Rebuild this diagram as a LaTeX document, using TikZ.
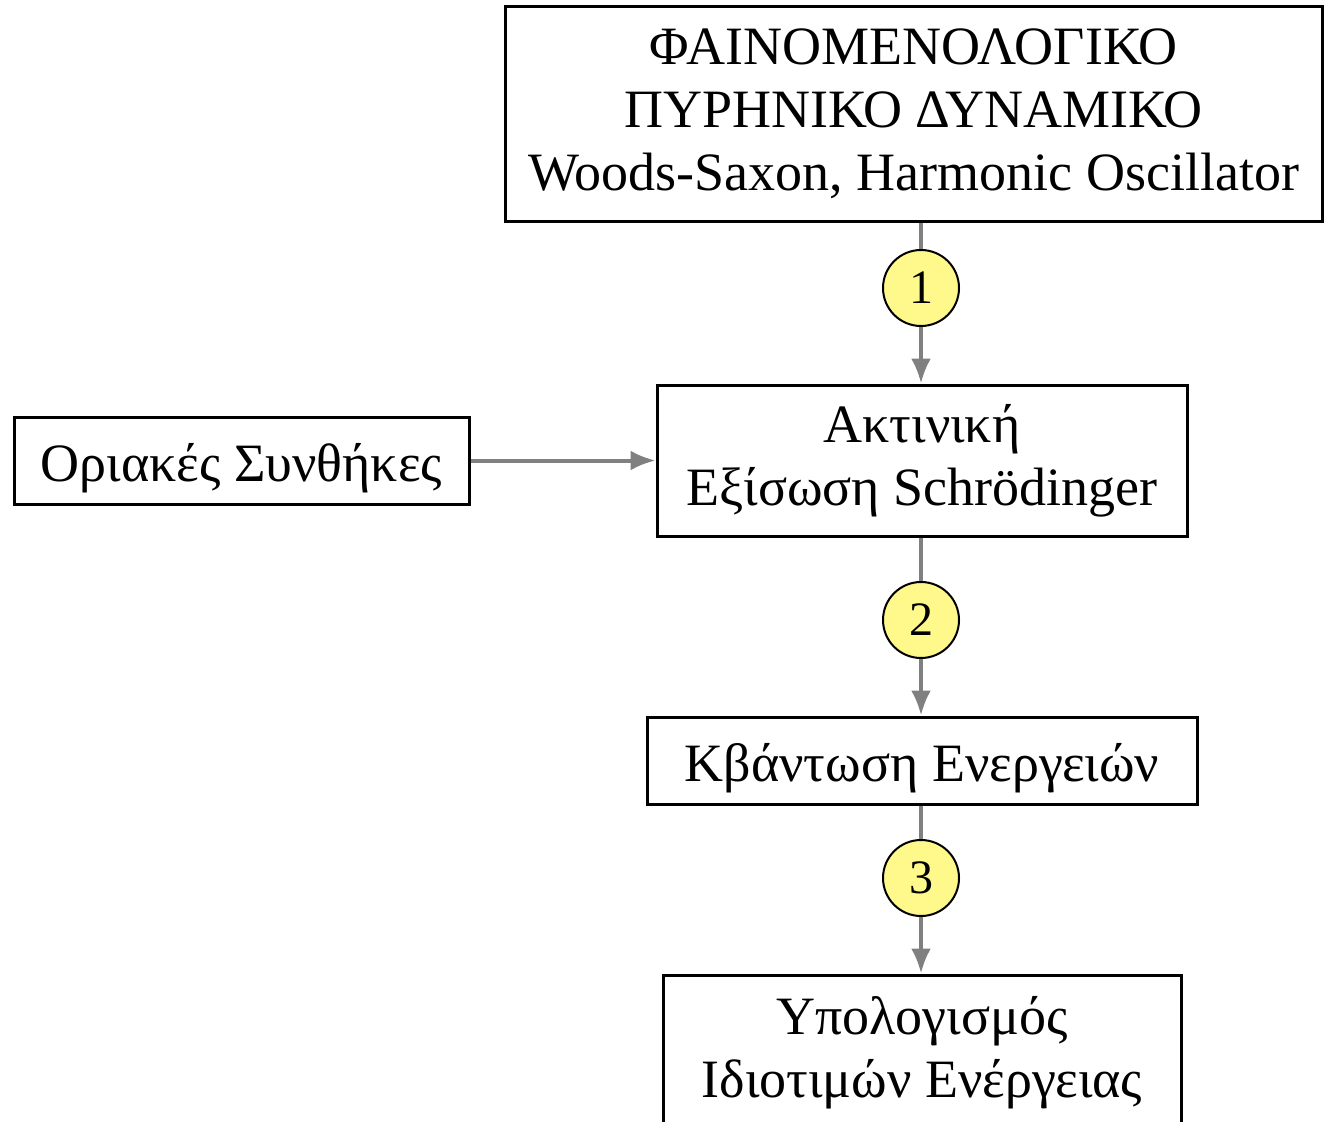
\documentclass[tikz,border=0pt]{standalone}
\usepackage{fontspec}
\setmainfont{Liberation Serif}
\usetikzlibrary{arrows.meta}
\tikzset{
  box/.style={draw,line width=3pt,align=center,inner sep=0pt,font=\fontsize{54}{63}\selectfont,
    execute at begin node={\rule{0pt}{54pt}}},
  num/.style={circle,draw,line width=2pt,fill=yellow!45,minimum size=76pt,inner sep=0pt,font=\fontsize{48}{48}\selectfont},
  conn/.style={draw=gray,line width=4pt},
  flow/.style={conn,-{Latex[length=25pt,width=20pt]}}
}
\begin{document}
\begin{tikzpicture}[x=1pt,y=-1pt]
		\useasboundingbox (0,0) rectangle (1324,1121);
		\node[box,minimum width=817pt,minimum height=214pt] (pot) at (913.5,114) {ΦΑΙΝΟΜΕΝΟΛΟΓΙΚΟ\\ΠΥΡΗΝΙΚΟ ΔΥΝΑΜΙΚΟ\\Woods-Saxon, Harmonic Oscillator};
		\node[box,minimum width=530pt,minimum height=151pt] (rad) at (922,460.5) {Ακτινική\\Εξίσωση Schrödinger};
		\node[box,minimum width=455pt,minimum height=87pt] (bc) at (241.5,460.5) {Οριακές Συνθήκες};
		\node[box,minimum width=550pt,minimum height=87pt] (quant) at (922,760.5) {Κβάντωση Ενεργειών};
		\node[box,minimum width=518pt,minimum height=156pt] (calc) at (922,1053) {Υπολογισμός\\Ιδιοτιμών Ενέργειας};
		\node[num] (c1) at (921,288) {1};
		\node[num] (c2) at (921,620) {2};
		\node[num] (c3) at (921,878) {3};
		\draw[conn] (c1 |- pot.south) -- (c1);
		\draw[flow] (c1) -- (c1 |- rad.north);
		\draw[conn] (c2 |- rad.south) -- (c2);
		\draw[flow] (c2) -- (c2 |- quant.north);
		\draw[conn] (c3 |- quant.south) -- (c3);
		\draw[flow] (c3) -- (c3 |- calc.north);
		\draw[flow] (bc) -- (rad);
\end{tikzpicture}
\end{document}
